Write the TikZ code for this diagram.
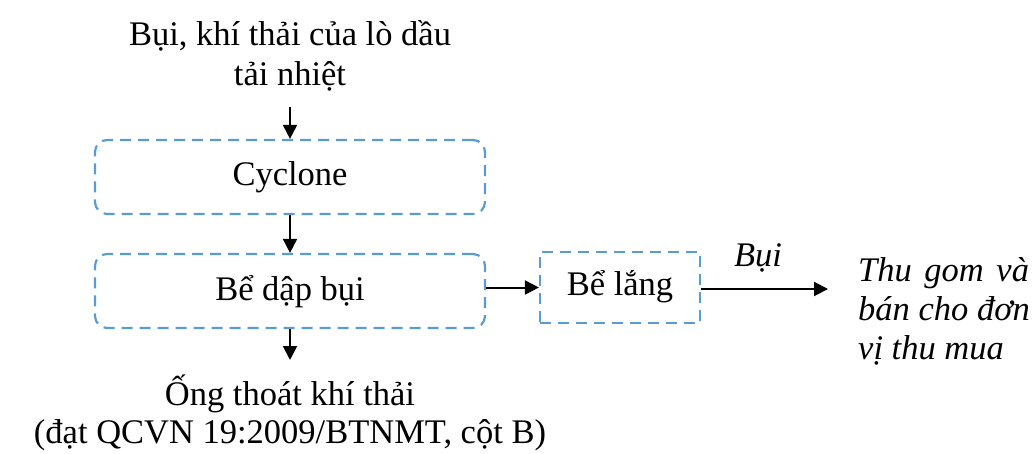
\documentclass[tikz,border=0pt]{standalone}
\usepackage{fontspec}
\setmainfont{Liberation Serif}
\usetikzlibrary{arrows.meta}
\definecolor{boxblue}{HTML}{5B9BD5}
\begin{document}
\begin{tikzpicture}[x=1pt,y=-1pt,
  txt/.style={font=\fontsize{34.5}{40}\selectfont, inner sep=0pt, align=center},
  itx/.style={font=\fontsize{34.5}{40}\selectfont\itshape, inner sep=0pt},
  procbox/.style={draw=boxblue, line width=2.2pt, dash pattern=on 11pt off 7pt, rounded corners=12pt, minimum width=390pt, minimum height=74pt, inner sep=0pt},
  sqbox/.style={draw=boxblue, line width=2.2pt, dash pattern=on 11pt off 7pt, minimum width=160pt, minimum height=71pt, inner sep=0pt},
  arr/.style={-{Triangle[length=14pt,width=14pt]}, line width=2pt}]
\useasboundingbox (0,0) rectangle (1035,454);
\node[txt, anchor=base] (src1) at (290,46) {Bụi, khí thải của lò dầu};
\node[txt, anchor=base] (src2) at (290,86) {tải nhiệt};
\node[procbox] (cyc) at (290,177) {};
\node[txt, anchor=base] at (290,186) {Cyclone};
\node[procbox] (bdb) at (290,291) {};
\node[txt, anchor=base] at (290,300) {Bể dập bụi};
\node[sqbox] (bl) at (620,287.5) {};
\node[txt, anchor=base] at (620,295) {Bể lắng};
\node[txt, anchor=base] (out1) at (290,405) {Ống thoát khí thải};
\node[txt, anchor=base] (out2) at (290,443) {(đạt QCVN 19:2009/BTNMT, cột B)};
\node[itx, anchor=base west] (dst1) at (858,281) {Thu\hspace{12.6pt}gom\hspace{12.6pt}và};
\node[itx, anchor=base west] (dst2) at (858,320) {bán cho đơn};
\node[itx, anchor=base west] (dst3) at (858,359) {vị thu mua};
\node[itx, anchor=base] (lbl) at (758,266) {Bụi};
\coordinate (dstin) at (828,289);
\coordinate (srcout) at (290,107);
\coordinate (outin) at (290,360);
\draw[arr] (srcout) -- (cyc.north);
\draw[arr] (cyc.south) -- (bdb.north);
\draw[arr] (bdb.south) -- (outin);
\draw[arr] (bdb.east |- bl.west) -- (bl.west);
\draw[arr] (bl.east |- dstin) -- (dstin);
\end{tikzpicture}
\end{document}
